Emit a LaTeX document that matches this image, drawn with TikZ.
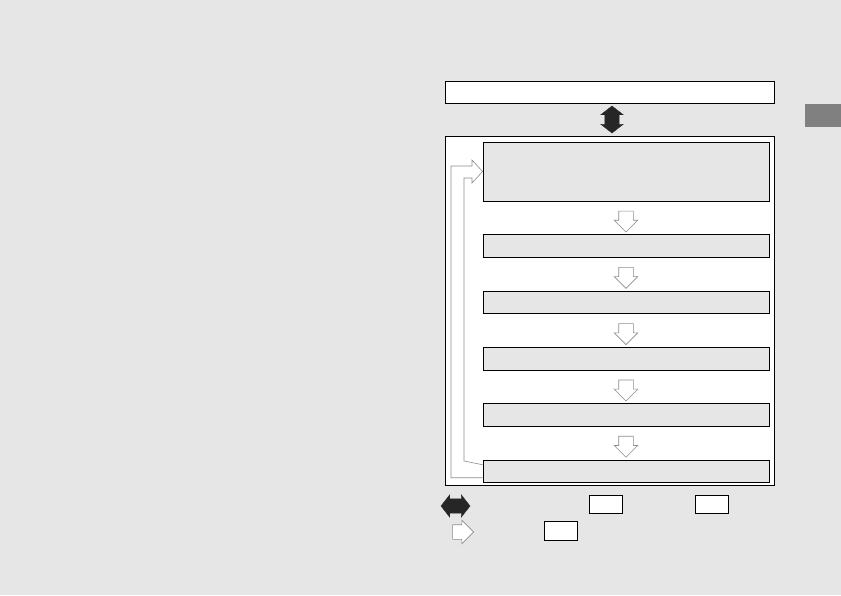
\documentclass[tikz,border=0pt]{standalone}
\usetikzlibrary{positioning, calc, shapes.arrows}

\definecolor{pagegrey}{HTML}{E6E6E6}
\definecolor{tabgrey}{HTML}{808080}
\definecolor{linegrey}{HTML}{8C8C8C}

\tikzset{
	frame/.style={draw, rectangle, line width=0.8pt, fill=white, inner sep=0pt},
	stepbox/.style={draw, rectangle, line width=0.8pt, fill=pagegrey, inner sep=0pt, minimum width=286pt, minimum height=22.5pt},
	keybox/.style={draw, rectangle, line width=0.8pt, fill=white, inner sep=0pt, minimum width=33pt, minimum height=18pt},
	% hollow block arrow between steps
	flow/.style={single arrow, draw=linegrey, fill=white, line width=0.6pt, inner xsep=0pt, inner ysep=7pt, minimum height=21pt, single arrow head extend=4.5pt, single arrow tip angle=90},
	% black two way arrow
	link/.style={double arrow, fill=black!85, draw=black!85, inner xsep=0pt, inner ysep=7pt, double arrow head extend=4pt, double arrow tip angle=104},
}

\begin{document}
\begin{tikzpicture}[x=1pt, y=-1pt]

	\fill[pagegrey] (0,0) rectangle (841,595);
	\useasboundingbox (0,0) rectangle (841,595);
	\fill[tabgrey] (805,104) rectangle (841,127);

	\node (top) [frame, minimum width=329pt, minimum height=22pt] at (609.5,92) {};
	\node (outer) [frame, minimum width=329pt, minimum height=349pt] at (609.5,310.5) {};

	\node (b1) [stepbox, minimum height=59pt] at (626,171.5) {};
	\node (b2) [stepbox, below=33pt of b1] {};
	\node (b3) [stepbox, below=33pt of b2] {};
	\node (b4) [stepbox, below=33pt of b3] {};
	\node (b5) [stepbox, below=33pt of b4] {};
	\node (b6) [stepbox, below=33pt of b5] {};

	\node (swap) [link, rotate=90, minimum height=27pt] at ($(top.south)!0.5!(outer.north)+(2.5,0)$) {};

	\foreach \a/\b in {b1/b2, b2/b3, b3/b4, b4/b5, b5/b6}
		\node (\a-\b) [flow, rotate=-90] at ($(\a.south)!0.5!(\b.north)$) {};

	% loop back from last step to first
	\draw[linegrey, line width=0.6pt, fill=white]
		($(b6.west)+(0,6.5)$) -| (451,166) -- (472,166) -- (472,160) -- (b1.west)
		-- (472,183) -- (472,178) -| (464,461) -- ($(b6.west)+(0,-6.5)$);

	% legend
	\node (keyswap) [link, minimum height=29pt] at (455.5,506) {};
	\node (key1) [keybox] at (605.5,504) {};
	\node (key2) [keybox] at (711.5,504) {};
	\node (keyflow) [flow, minimum height=21pt] at (459.5,532) {};
	\node (key3) [keybox, minimum height=19pt] at (560.5,530.5) {};

\end{tikzpicture}
\end{document}
